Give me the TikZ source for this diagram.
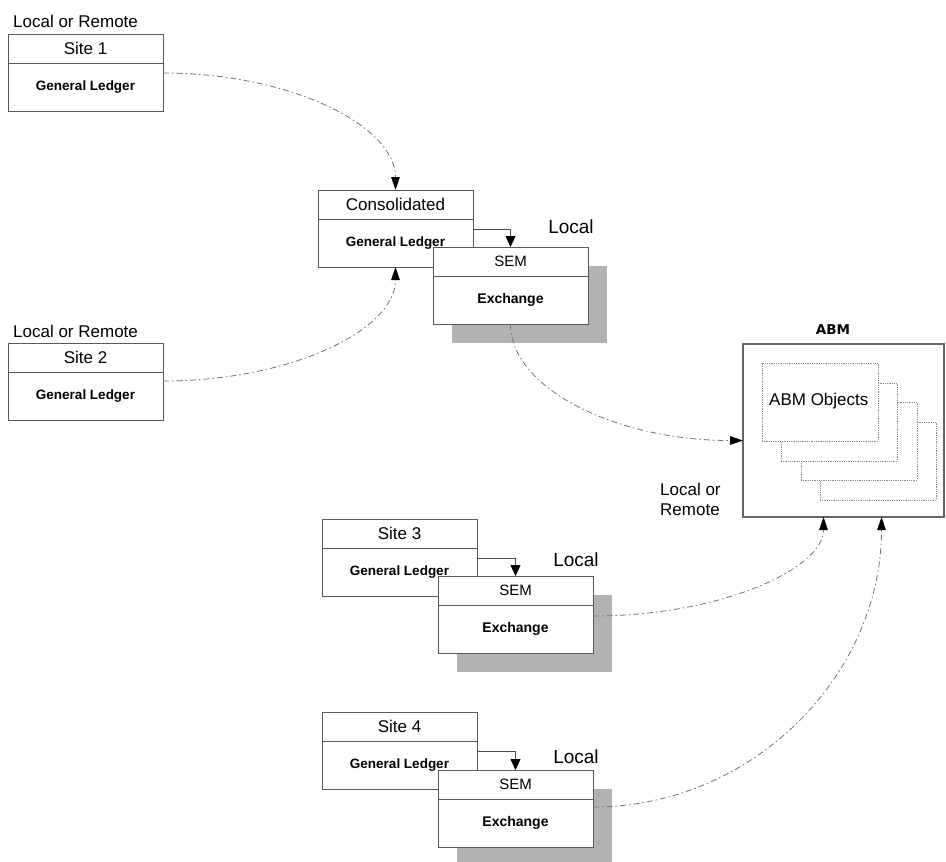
\documentclass[tikz,border=0pt]{standalone}
\usepackage{fontspec}
\setmainfont{Liberation Sans}
\newfontfamily\heavyfont{DejaVu Sans}
\usetikzlibrary{arrows.meta}
\begin{document}
\begin{tikzpicture}[x=1pt,y=-1pt,
  boxline/.style={draw=black!65, line width=0.9pt},
  part/.style={boxline, fill=white, rectangle, inner sep=0pt, outer sep=0pt, minimum width=155pt, anchor=north west},
  titlepart/.style={part, minimum height=29pt, font=\fontsize{17}{20}\selectfont},
  glpart/.style={part, minimum height=48pt, font=\bfseries\fontsize{13.5}{16}\selectfont},
  sempart/.style={part, minimum height=29pt, font=\fontsize{15}{17}\selectfont},
  exchpart/.style={part, minimum height=48pt, font=\bfseries\fontsize{14}{17}\selectfont},
  shadowbox/.style={fill=black!30, draw=none, rectangle, inner sep=0pt, outer sep=0pt, minimum width=155pt, minimum height=77pt, anchor=north west},
  objbox/.style={draw=black!45, densely dotted, line width=0.8pt, fill=white, rectangle, inner sep=0pt, outer sep=0pt, minimum width=116pt, minimum height=78pt, anchor=north west},
  lbl/.style={inner sep=0pt, font=\fontsize{17}{20}\selectfont},
  loclbl/.style={inner sep=0pt, font=\fontsize{19}{22}\selectfont},
  flow/.style={draw=black!55, line width=0.8pt, dash pattern=on 6pt off 3pt on 1.5pt off 3pt, -{Triangle[length=13pt,width=8.5pt,color=black]}},
  feed/.style={draw=black!70, line width=0.8pt, -{Triangle[length=11pt,width=10pt,color=black]}}
]
\useasboundingbox (0,0) rectangle (946,862);

% Site 1
\node[lbl, anchor=west] (l1) at (13,21) {Local or Remote};
\node[titlepart] (s1t) at (8,34) {Site 1};
\node[glpart] (s1g) at (8,63) {General Ledger};

% Site 2
\node[lbl, anchor=west] (l2) at (13,331) {Local or Remote};
\node[titlepart] (s2t) at (8,343) {Site 2};
\node[glpart] (s2g) at (8,372) {General Ledger};

% Consolidated
\node[titlepart] (ct) at (318,190) {Consolidated};
\node[glpart] (cg) at (318,219) {General Ledger};
\node[shadowbox] (sh1) at (452,266) {};
\node[sempart] (sm1) at (433,247) {SEM};
\node[exchpart] (ex1) at (433,276) {Exchange};
\node[loclbl] (lc1) at (571,227) {Local};
\draw[feed] ([yshift=-10pt]cg.north east) -| (sm1.north);

% Site 3
\node[titlepart] (s3t) at (322,519) {Site 3};
\node[glpart] (s3g) at (322,548) {General Ledger};
\node[shadowbox] (sh3) at (457,595) {};
\node[sempart] (sm3) at (438,576) {SEM};
\node[exchpart] (ex3) at (438,605) {Exchange};
\node[loclbl] (lc3) at (576,560) {Local};
\draw[feed] ([yshift=-10pt]s3g.north east) -| (sm3.north);

% Site 4
\node[titlepart] (s4t) at (322,712) {Site 4};
\node[glpart] (s4g) at (322,741) {General Ledger};
\node[shadowbox] (sh4) at (457,789) {};
\node[sempart] (sm4) at (438,770) {SEM};
\node[exchpart] (ex4) at (438,799) {Exchange};
\node[loclbl] (lc4) at (576,757) {Local};
\draw[feed] ([yshift=-10pt]s4g.north east) -| (sm4.north);

% ABM
\node[inner sep=0pt, font=\heavyfont\bfseries\fontsize{13.5}{16}\selectfont] (abmt) at (833,330) {ABM};
\node[draw=black!60, line width=1.5pt, rectangle, inner sep=0pt, outer sep=0pt, minimum width=201pt, minimum height=173pt, anchor=north west] (abm) at (743,344) {};
\node[objbox] (ob4) at (820,422) {};
\node[objbox] (ob3) at (801,402) {};
\node[objbox] (ob2) at (781,383) {};
\node[objbox] (ob1) at (762,363) {};
\node[lbl, anchor=west] (obt) at (769,401) {ABM Objects};
\node[lbl, anchor=west, align=left] (l3) at (660,499) {Local or\\Remote};

% connectors
\draw[flow] ([yshift=14pt]s1g.east) .. controls +(128,0) and +(0,-64) .. (ct.north);
\draw[flow] ([yshift=15pt]s2g.east) .. controls +(128,0) and +(0,63) .. (cg.south);
\draw[flow] (ex1.south) .. controls +(0,64) and +(-128,0) .. ([yshift=-10pt]abm.west);
\draw[flow] ([yshift=13pt]ex3.east) .. controls +(127,0) and +(0,52) .. ([xshift=-20pt]abm.south);
\draw[flow] ([yshift=16pt]ex4.east) .. controls +(160,0) and +(0,158) .. ([xshift=38pt]abm.south);
\end{tikzpicture}
\end{document}
